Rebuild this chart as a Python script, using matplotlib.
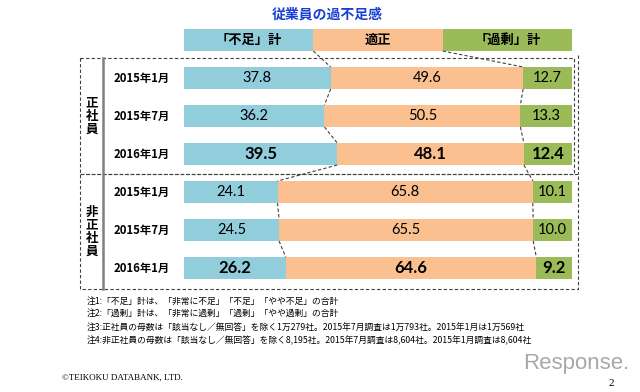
import matplotlib.pyplot as plt
import numpy as np

JP = ["Noto Sans CJK JP", "DejaVu Sans"]
NUM = ["Lato", "DejaVu Sans"]
plt.rcParams["font.family"] = JP

title = "従業員の過不足感"
headers = ["「不足」計", "適正", "「過剰」計"]
periods = ["2015年1月", "2015年7月", "2016年1月", "2015年1月", "2015年7月", "2016年1月"]
groups = ["正\n社\n員", "非\n正\n社\n員"]
shortage = [37.8, 36.2, 39.5, 24.1, 24.5, 26.2]
adequate = [49.6, 50.5, 48.1, 65.8, 65.5, 64.6]
excess = [12.7, 13.3, 12.4, 10.1, 10.0, 9.2]
latest = [False, False, True, False, False, True]
notes = [
    "注1:「不足」計は、「非常に不足」「不足」「やや不足」の合計",
    "注2:「過剰」計は、「非常に過剰」「過剰」「やや過剰」の合計",
    "注3:正社員の母数は「該当なし／無回答」を除く1万279社。2015年7月調査は1万793社。2015年1月は1万569社",
    "注4:非正社員の母数は「該当なし／無回答」を除く8,195社。2015年7月調査は8,604社。2015年1月調査は8,604社",
]

COLORS = ["#92CDDC", "#FAC090", "#9BBB59"]
W, H = 640, 392

fig = plt.figure(figsize=(6.4, 3.92), dpi=100)


def px_axes(x0, y0, x1, y1):
    return fig.add_axes([x0 / W, 1 - y1 / H, (x1 - x0) / W, (y1 - y0) / H])


# overlay in pixel coordinates for frames and free text
ov = px_axes(0, 0, W, H)
ov.set_xlim(0, W)
ov.set_ylim(H, 0)
ov.axis("off")

dash = dict(color="#404040", lw=0.8, linestyle=(0, (3, 2)))
ov.plot([80, 574, 574, 80, 80], [58, 58, 174, 174, 58], **dash)
ov.plot([80, 578, 578, 80, 80], [174, 174, 289, 289, 174], **dash)
ov.plot([578, 578], [55, 174], **dash)
ov.plot([103, 103], [58, 289], color="#808080", lw=1.8)

ov.text(327, 15, title, ha="center", va="center", fontsize=10,
        fontweight="bold", color="#1A3FD6")
ov.text(92, 116, groups[0], ha="center", va="center", fontsize=9,
        fontweight="bold", linespacing=1.0)
ov.text(92, 232, groups[1], ha="center", va="center", fontsize=9,
        fontweight="bold", linespacing=1.0)

for i, note in enumerate(notes):
    ov.text(87, [301, 313, 327, 341][i], note, ha="left", va="center", fontsize=6.3)
ov.text(62, 378, "©TEIKOKU DATABANK, LTD.", ha="left", va="center", fontsize=6.5,
        family=["Liberation Serif"])
ov.text(576, 364, "Response.", ha="center", va="center", fontsize=16,
        color="#A8A8A8", family=["Liberation Sans"])
ov.text(611, 384, "2", ha="center", va="center", fontsize=8,
        family=["Liberation Serif"])

# header band
hd = px_axes(184, 29, 572, 51)
hd.set_xlim(0, 100)
hd.set_ylim(-0.5, 0.5)
hd.axis("off")
share = 100 / len(headers)
hd.barh([0] * 3, [share] * 3, left=[0, share, 2 * share], height=1.0,
        color=COLORS, linewidth=0)
for k, label in enumerate(headers):
    hd.text(share * (k + 0.5), 0, label, ha="center", va="center",
            fontsize=9.5, fontweight="bold")

# main stacked bars
ax = px_axes(184, 59, 572, 287)
ax.set_xlim(0, 100)
ax.set_ylim(len(periods) - 0.5, -0.5)
ax.axis("off")
rows = np.arange(len(periods))
bh = 22 / 38
s = np.array(shortage)
a = np.array(adequate)
e = np.array(excess)
ax.barh(rows, s, height=bh, color=COLORS[0], linewidth=0)
ax.barh(rows, a, left=s, height=bh, color=COLORS[1], linewidth=0)
ax.barh(rows, e, left=s + a, height=bh, color=COLORS[2], linewidth=0)

for i in rows:
    bold = latest[i]
    kw = dict(ha="center", va="center", family=NUM,
              fontsize=12 if bold else 10.5,
              fontweight="bold" if bold else "normal")
    ax.text(s[i] / 2, i, f"{s[i]:.1f}", **kw)
    ax.text(s[i] + a[i] / 2, i, f"{a[i]:.1f}", **kw)
    ax.text(s[i] + a[i] + e[i] / 2, i, f"{e[i]:.1f}", **kw)
    ax.text(-3.6, i, periods[i], ha="right", va="center", fontsize=8.2,
            fontweight="bold", clip_on=False)

# dashed connectors between segment boundaries
bounds = [s, s + a]
for k, b in enumerate(bounds):
    ax.plot([share * (k + 1), b[0]], [(51 - 78) / 38, -bh / 2], clip_on=False, **dash)
    for i in range(len(periods) - 1):
        ax.plot([b[i], b[i + 1]], [i + bh / 2, i + 1 - bh / 2], clip_on=False, **dash)

fig.savefig("out.png", dpi=100)
